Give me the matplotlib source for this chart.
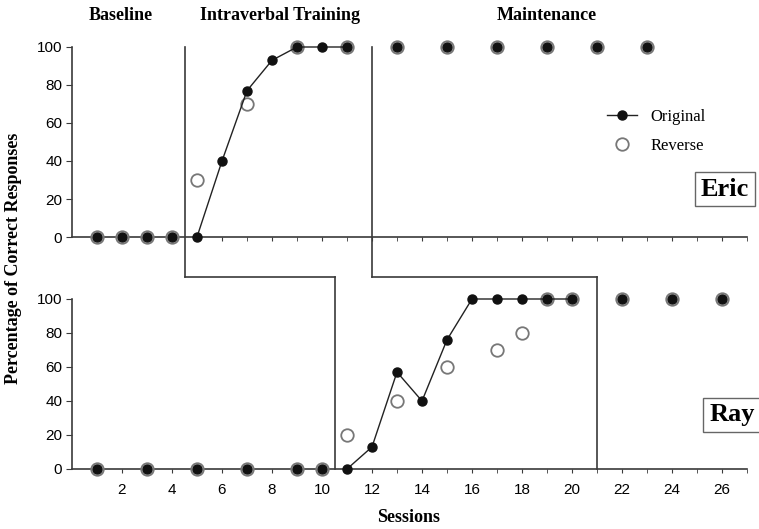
import matplotlib
matplotlib.use("Agg")
import matplotlib.pyplot as plt
from matplotlib.lines import Line2D

# ---- data ----
eric_orig_base_x = [1, 2, 3, 4]
eric_orig_base_y = [0, 0, 0, 0]
eric_orig_train_x = [5, 6, 7, 8, 9, 10, 11]
eric_orig_train_y = [0, 40, 77, 93, 100, 100, 100]
eric_orig_maint_x = [13, 15, 17, 19, 21, 23]
eric_orig_maint_y = [100, 100, 100, 100, 100, 100]
eric_rev_x = [1, 2, 3, 4, 5, 7, 9, 11, 13, 15, 17, 19, 21, 23]
eric_rev_y = [0, 0, 0, 0, 30, 70, 100, 100, 100, 100, 100, 100, 100, 100]

ray_orig_base_x = [1, 3, 5, 7, 9, 10]
ray_orig_base_y = [0, 0, 0, 0, 0, 0]
ray_orig_train_x = [11, 12, 13, 14, 15, 16, 17, 18, 19, 20]
ray_orig_train_y = [0, 13, 57, 40, 76, 100, 100, 100, 100, 100]
ray_orig_maint_x = [22, 24, 26]
ray_orig_maint_y = [100, 100, 100]
ray_rev_x = [1, 3, 5, 7, 9, 10, 11, 13, 15, 17, 18, 19, 20, 22, 24, 26]
ray_rev_y = [0, 0, 0, 0, 0, 0, 20, 40, 60, 70, 80, 100, 100, 100, 100, 100]

phase_titles = ["Baseline", "Intraverbal Training", "Maintenance"]
y_ticks = [0, 20, 40, 60, 80, 100]
x_ticks_major = list(range(2, 27, 2))
x_ticks_minor = list(range(1, 28))

SERIF = ["Liberation Serif", "DejaVu Serif"]
SANS = ["Liberation Sans Narrow", "Liberation Sans", "DejaVu Sans"]
LC = "#3a3a3a"

fig = plt.figure(figsize=(7.59, 5.29), dpi=100)
W, H = 759, 529

def fx(px):
    return px / W

def fy(py):
    return 1 - py / H

ax1 = fig.add_axes([fx(72), fy(237), fx(747) - fx(72), fy(47) - fy(237)])
ax2 = fig.add_axes([fx(72), fy(469), fx(747) - fx(72), fy(299) - fy(469)])

for ax in (ax1, ax2):
    ax.set_xlim(0, 27)
    ax.set_ylim(0, 100)
    for s in ("top", "right"):
        ax.spines[s].set_visible(False)
    for s in ("left", "bottom"):
        ax.spines[s].set_color(LC)
        ax.spines[s].set_linewidth(1.2)
    ax.set_yticks(y_ticks)
    ax.set_xticks(x_ticks_minor, minor=True)
    ax.set_xticks(x_ticks_major)
    ax.tick_params(axis="y", direction="out", length=4, color=LC, labelsize=11, pad=3)
    ax.tick_params(axis="x", which="both", direction="out", length=3, color=LC, labelsize=11, pad=7)
    for lab in ax.get_yticklabels() + ax.get_xticklabels():
        lab.set_family(SANS)

ax1.tick_params(axis="x", labelbottom=False)

def draw(ax, rx, ry, segs):
    ax.plot(rx, ry, linestyle="none", marker="o", markersize=9,
            markerfacecolor="white", markeredgecolor="#777777",
            markeredgewidth=1.3, clip_on=False, zorder=4)
    for i, (xs, ys) in enumerate(segs):
        ls = "-" if i == 1 else "none"
        ax.plot(xs, ys, linestyle=ls, color="#222222", linewidth=1.0,
                marker="o", markersize=6.5, markerfacecolor="#111111",
                markeredgecolor="#111111", clip_on=False, zorder=5)

draw(ax1, eric_rev_x, eric_rev_y,
     [(eric_orig_base_x, eric_orig_base_y),
      (eric_orig_train_x, eric_orig_train_y),
      (eric_orig_maint_x, eric_orig_maint_y)])
draw(ax2, ray_rev_x, ray_rev_y,
     [(ray_orig_base_x, ray_orig_base_y),
      (ray_orig_train_x, ray_orig_train_y),
      (ray_orig_maint_x, ray_orig_maint_y)])

# phase change lines
y_top_low = (237 - 277) / 1.9
y_bot_high = (469 - 277) / 1.7
for xa, xb in [(4.5, 10.5), (12, 21)]:
    ax1.plot([xa, xa], [100, y_top_low], color=LC, lw=1.2, clip_on=False, zorder=2)
    ax2.plot([xa, xb], [y_bot_high, y_bot_high], color=LC, lw=1.2, clip_on=False, zorder=2)
    ax2.plot([xb, xb], [y_bot_high, 0], color=LC, lw=1.2, clip_on=False, zorder=2)

# phase titles
for t, px in zip(phase_titles, [121, 280, 547]):
    fig.text(fx(px), fy(15), t, ha="center", va="center", family=SERIF,
             fontweight="bold", fontsize=13)

fig.text(fx(14), fy(258), "Percentage of Correct Responses", rotation=90,
         ha="center", va="center", family=SERIF, fontweight="bold", fontsize=13)
fig.text(fx(409), fy(518), "Sessions", ha="center", va="center",
         family=SERIF, fontweight="bold", fontsize=13)

# participant names
fig.text(fx(725), fy(189), "Eric", ha="center", va="center", family=SERIF,
         fontweight="bold", fontsize=19,
         bbox=dict(boxstyle="square,pad=0.22", facecolor="white", edgecolor="#666666", lw=1))
fig.text(fx(732), fy(415), "Ray", ha="center", va="center", family=SERIF,
         fontweight="bold", fontsize=19,
         bbox=dict(boxstyle="square,pad=0.22", facecolor="white", edgecolor="#666666", lw=1))

# legend
h1 = Line2D([], [], color="#222222", lw=1.0, marker="o", markersize=6.5,
            markerfacecolor="#111111", markeredgecolor="#111111")
h2 = Line2D([], [], linestyle="none", marker="o", markersize=9,
            markerfacecolor="white", markeredgecolor="#777777", markeredgewidth=1.3)
ax1.legend([h1, h2], ["Original", "Reverse"], loc="upper left",
           bbox_to_anchor=(fx(592), fy(94)), bbox_transform=fig.transFigure,
           frameon=False, prop={"family": SERIF, "size": 12},
           handlelength=1.8, labelspacing=0.8, handletextpad=0.8)

fig.savefig("out.png", dpi=100)
